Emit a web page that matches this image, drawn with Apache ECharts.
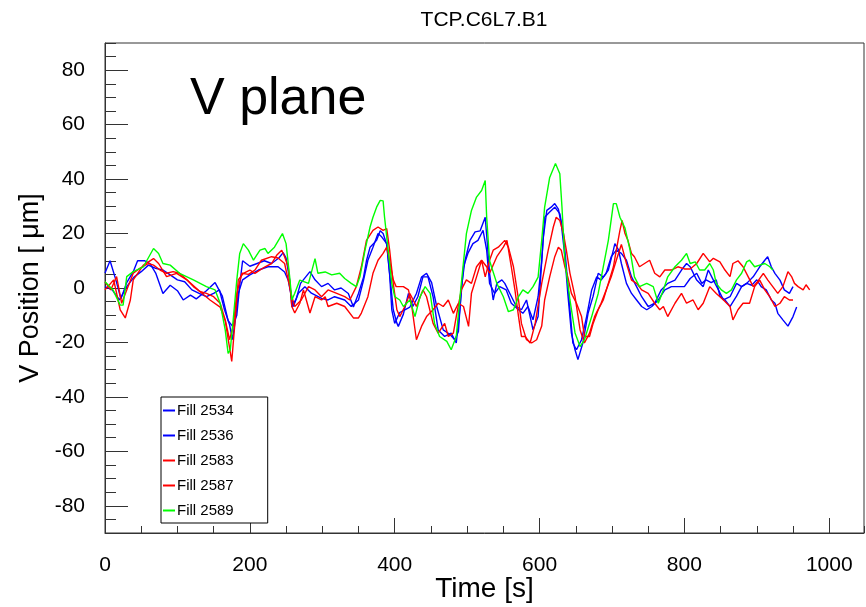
<!DOCTYPE html>
<html>
<head>
<meta charset="utf-8">
<script src="https://cdn.jsdelivr.net/npm/echarts@6/dist/echarts.min.js"></script>
<style>
html,body{margin:0;padding:0;background:#fff;}
#c{width:866px;height:607px;}
</style>
</head>
<body>
<div id="c"></div>
<script>
// ---- data (time [s], V position [um]) ----
const seriesNames = ['Fill 2534', 'Fill 2536', 'Fill 2583', 'Fill 2587', 'Fill 2589'];
const xTickLabels = [0, 200, 400, 600, 800, 1000];
const yTickLabels = [-80, -60, -40, -20, 0, 20, 40, 60, 80];

const tA = [0,7,15,22,30,39,45,55,62,70,80,90,100,108,118,126,140,152,162,170,176,182,186,190,200,210,220,230,240,246,250,255,258,264,270,283,290,299,308,317,326,336,343,350,357,361,366,375,380,384,389,393,396,400,407,414,421,430,437,444,451,458,467,476,483,488,492,497,504,511,518,525,528,531,536,541,548,552,559,568,575,582,591,598,605,610,616,621,626,630,635,639,644,649,653,660,667,674,681,688,695,702,704,709,713,720,727,734,741,748,755,764,773,782,791,800,808,817,824,830,837,844,849,856,863,872,879,886,893,900,906,913,920,925,929,936,943,950,955];
const vA = [5.5,10,3,-4,2,6,10,10,9,5.5,-2,1,-1,-4.4,-2.6,-4,-1,2,-3,-12,-14,-10,1,10,8,9,10,9,11,13,11,3,-7,-4,1.7,6,3,0.5,1.7,-0.7,0,-2,-7,-2,4,10,15,17.5,21,20,16,5,-8,-13,-9,-8,-7,-2,4,5.4,2,-6.8,-15.4,-17,-19,-16,0,10,17.5,20.6,21,26,16,5.4,-4.4,1.7,3,1.7,-2,-6.8,-8,-4.4,-15.4,-10.5,18,28.5,29.7,31,29,23.6,11.5,-2,-16.6,-22.7,-26.3,-20,-9.3,-3,5.4,4,6.6,14,16.3,14,9,1.7,-2,-4.4,-6.8,-8,-6.8,-4.4,-0.7,0.5,0.5,0.5,3.5,5.4,1.7,3,2,3,-3,-4.4,-6.8,-3,0.5,1.7,1,3,0.5,-0.7,-4.4,-5.6,-9.3,-11.7,-14,-10.5,-7];

const tB = [0,10,20,30,40,50,60,70,80,90,100,110,120,130,140,150,158,165,172,176,180,184,190,200,212,225,239,248,253,260,267,276,285,299,308,317,331,340,350,357,363,370,377,382,389,393,398,403,405,412,419,425,432,439,446,453,460,469,478,485,490,495,501,508,515,522,527,531,538,545,554,561,571,577,584,591,598,603,607,614,621,628,633,637,642,646,651,658,665,672,679,685,692,699,706,713,720,727,734,741,750,759,768,777,787,796,803,808,817,826,833,840,847,854,863,872,879,886,895,904,911,915,920,925,932,938,945,950];
const vB = [0.5,-0.7,-4.4,0.5,4,6,8.4,7.2,6.6,4.8,3,2.3,-0.7,-2,-3.2,-2,-0.7,-8,-13.5,-19,-11.7,-2,3,4.8,6.6,7.8,7.8,5.9,2.9,-6.8,-1.9,0.5,-1.9,-3.8,-4.4,-3.2,-4.4,-6.8,-4.4,2.9,10.2,15,20,18.8,16.3,5.4,-8,-12.9,-14.1,-9.6,-2,-6.8,-3.2,4.1,4.1,-3.2,-15.4,-17.8,-16.6,-20.2,-8,7.8,12.7,16.3,17.5,21.2,13.9,1.7,-2,0.5,-0.7,-5.6,-8,-9.3,-6.8,-11.7,-3.2,10,26,27.9,29.7,27.3,20,7.8,-8,-20.2,-22.7,-19,-10.5,-0.7,4.1,2.9,5.4,11.5,13.9,12.7,10.2,4.1,0.5,-3.2,-6.8,-5.6,-0.7,1.7,2.9,6.6,9,7.8,2.9,0.5,6.6,2.9,-0.7,-4.4,-3.2,1.7,0.5,1.7,4.1,7.8,10.2,11.5,7.8,5.4,2.9,-0.7,-2,0.5];

const tC = [0,12,21,28,35,39,53,67,74,85,99,113,131,145,159,166,175,179,184,191,200,207,221,230,237,244,248,253,258,262,269,274,278,283,290,299,304,308,320,331,343,350,354,363,370,377,384,389,393,398,402,412,419,423,430,437,444,453,460,467,474,481,488,495,502,506,513,520,525,531,536,543,552,557,564,571,575,582,589,596,603,607,614,621,626,630,635,639,644,651,658,662,669,674,681,688,695,702,706,711,714,718,722,727,731,738,745,752,759,766,773,782,791,800,808,817,826,835,840,849,856,863,867,874,881,888,895,900,909,915,922,929,936,943,948,952,957,964,968,973];
const vC = [-0.7,3,-8,-11,-4.4,3,8.4,10.8,9,4.2,5.4,3,-1.3,-4.4,-7,-12,-27,-14,3,5.4,6.6,5.4,7.8,9,12,13.9,11.5,7.8,-6.8,-9.2,-5.6,-0.7,-4.4,-9.2,-3.2,-4.4,-3.2,-6.8,-5.6,-6.8,-11,-11,-9.2,-3.2,5.4,10.2,12.7,15,10,3,0.5,0.5,-0.7,-5.6,-19,-14.1,-10.5,-8,-5.6,-6.8,-4.4,-9.3,-5.6,-6.8,-14.1,-1.9,4.1,10.2,4.1,10.2,13.9,15,17.5,15,7.8,-4.4,-13,-19,-20.2,-19,-14,-4.4,4.1,11.5,15,13.9,7.8,4.1,-2,-5.6,-10.5,-17.8,-17.8,-13,-8,-4.4,1.7,7.8,13.9,21.2,24.8,20,17.5,12.7,11.5,7.8,9,10.2,5.4,4.1,6.6,6.6,7.8,7,7,9,12.7,9.6,10.9,9.6,6.6,4.2,9,10,7.8,4.2,0.5,2,5.4,3,0.5,-2,0.5,6,4.2,1.7,0.5,-0.7,1.2,-0.7];

const tD = [0,8,16,23,30,39,48,60,67,76,85,94,103,113,122,131,140,150,159,166,172,177,182,189,198,207,216,230,239,248,253,258,262,271,281,290,299,308,320,331,338,347,354,361,370,377,384,389,393,398,403,407,414,421,430,439,444,453,460,469,474,481,485,492,499,506,513,520,527,531,541,550,555,561,566,571,575,580,587,594,603,612,619,623,628,633,637,642,649,656,662,669,676,685,692,699,706,713,720,727,734,741,750,759,766,771,777,787,796,803,812,819,826,835,844,854,863,867,874,881,890,897,904,911,918,925,932,938,945,950];
const vD = [2.3,-0.7,4.2,-5.6,-0.7,5.4,7.2,9,8.4,6.6,5.4,6,5.4,3,0.5,-1.3,-2,-3.2,-5.6,-11.7,-19,-14,-2,5.4,5,6.6,10.2,11.5,11,9,2.9,-3.2,-6.8,-4.4,0.5,-0.7,-3.2,-0.7,-2,-3.2,-4.4,0.5,7.8,17.5,21.2,22.4,21.2,21.8,14,1.7,-8,-10.5,-6.8,-2,-6.8,-0.7,-3.2,-13,-16.6,-13,-17.8,-16.6,-10.5,-0.7,3,1.7,7.8,10.2,7.8,5.4,11.5,15,17.5,7.8,-0.7,-10.5,-17.8,-17.8,-20.2,-13,1.7,13.9,22.4,26,24.8,20,13.9,5.4,-3.2,-15.4,-20.2,-16.6,-10.5,-5.6,-0.7,4.1,10.2,16,9,2.9,1.7,-0.7,-2,-5.6,-8,-6.8,-10.5,-5.6,-2,-5.6,-4.4,-8,-5.6,0.5,-2,-4.4,-6.8,-11.7,-8,-5.6,-5.6,0.5,2.9,-0.7,-3.2,-6.8,-5.6,-3.2,-4.4,-4.4];

const tE = [0,11,21,25,30,39,53,67,74,80,90,103,122,140,152,159,166,170,173,177,182,186,191,198,205,214,221,225,234,245,250,255,258,262,269,281,290,294,304,313,324,331,340,347,352,359,366,370,375,380,384,386,391,396,400,407,412,421,428,435,442,449,455,462,472,478,485,492,499,506,513,520,525,527,531,541,550,557,564,571,577,584,591,598,603,607,614,622,628,631,635,642,649,656,662,672,681,688,695,702,706,711,718,725,731,738,748,757,764,771,777,787,796,803,808,815,821,828,835,840,844,851,858,865,872,879,886,890,897,904,911,918,922];
const vE = [2.3,-0.7,-6.3,-6.3,4.2,6,7.8,14.5,12.7,9,8.4,5.4,3,0.5,-0.7,-5.6,-15.4,-24,-22.7,-11.7,3,12.7,16.3,13.9,10.2,13.9,14.5,12.7,15,20,16.3,4.1,-4.4,-1.9,2.9,1.7,10.8,5.4,5.9,4.8,5.4,3.5,1.7,0.5,4.1,13.9,22.4,26,29.7,32.2,32,26,13.9,1.7,-3.2,-4.4,-6.8,-4.4,-10.5,-3.2,0.5,-2,-13,-17.8,-19.6,-22.7,-17.8,1.7,20,28.5,33.4,35.8,39.5,26,10,1.7,-3.2,-8.7,-8,-3.2,-0.7,-2,0.5,4,17.5,29.6,40.6,45.7,42,29.6,10,-4.4,-16.5,-21.5,-19,-10.5,-2,7.8,17.5,31,31,26,22,13.9,4.1,0.5,1.7,0.5,-5.6,-0.7,4.1,7.8,10.2,12.7,9,9.6,6.6,6.6,9,6.6,1.7,-0.7,-2,-0.7,3,5.4,9.6,10.2,7.8,8.4,9,7.8,6.6];

const seriesColors = ['#0000ff', '#0000ff', '#ff0000', '#ff0000', '#00ff00'];
const times = [tA, tB, tC, tD, tE];
const values = [vA, vB, vC, vD, vE];

// ---- chart ----
const FONT = "'Liberation Sans', Arial, sans-serif";
const chart = echarts.init(document.getElementById('c'), null, {renderer: 'canvas'});
const zip = (t, v) => t.map((x, i) => [x, v[i]]);
const plain = v => String(v);

const option = {
  animation: false,
  backgroundColor: '#fff',
  title: {
    text: 'TCP.C6L7.B1',
    left: 479, top: 5,
    textAlign: 'center',
    textStyle: {fontFamily: FONT, fontSize: 21, fontWeight: 'normal', color: '#000'}
  },
  grid: {left: 105, right: 2, top: 43, bottom: 74, outerBoundsMode: 'none', containLabel: false,
         show: true, borderColor: '#333', borderWidth: 1, backgroundColor: 'transparent'},
  legend: {
    data: seriesNames,
    orient: 'vertical',
    left: 161, top: 397,
    icon: 'rect',
    itemWidth: 12, itemHeight: 2,
    itemGap: 10,
    padding: [6, 34, 5, 2],
    backgroundColor: '#fff',
    borderColor: '#000', borderWidth: 1,
    textStyle: {fontFamily: FONT, fontSize: 15, lineHeight: 15, color: '#000', padding: [0, 0, 0, -3]},
    selectedMode: false
  },
  xAxis: [
    {
      type: 'value', min: 0, max: 1048, position: 'bottom',
      name: 'Time [s]', nameLocation: 'middle', nameGap: 42, nameMoveOverlap: false,
      nameTextStyle: {fontFamily: FONT, fontSize: 28, color: '#000'},
      axisLine: {show: true, onZero: false, lineStyle: {color: '#333', width: 1}},
      axisTick: {show: true, inside: true, length: 15, customValues: xTickLabels, lineStyle: {color: '#333'}},
      axisLabel: {customValues: xTickLabels, formatter: plain, color: '#000', fontFamily: FONT, fontSize: 21, margin: 22},
      splitLine: {show: false}
    },
    {
      type: 'value', min: 0, max: 1048, interval: 50, position: 'bottom',
      axisLine: {show: false, onZero: false},
      axisTick: {show: true, inside: true, length: 7, lineStyle: {color: '#333'}},
      axisLabel: {show: false}, splitLine: {show: false}
    }
  ],
  yAxis: [
    {
      type: 'value', min: -90, max: 90, position: 'left',
      name: 'V Position [ \u03bcm]', nameLocation: 'middle', nameGap: 60, nameRotate: 90,
      nameTextStyle: {fontFamily: FONT, fontSize: 27, color: '#000'},
      axisLine: {show: true, onZero: false, lineStyle: {color: '#333', width: 1}},
      axisTick: {show: true, inside: true, length: 23, customValues: yTickLabels, lineStyle: {color: '#333'}},
      axisLabel: {customValues: yTickLabels, formatter: plain, color: '#000', fontFamily: FONT, fontSize: 21, margin: 20},
      splitLine: {show: false}
    },
    {
      type: 'value', min: -90, max: 90, interval: 5, position: 'left', offset: 0,
      axisLine: {show: false, onZero: false},
      axisTick: {show: true, inside: true, length: 11, lineStyle: {color: '#333'}},
      axisLabel: {show: false}, splitLine: {show: false}
    }
  ],
  graphic: [{
    type: 'text', left: 190, top: 74, z: 100,
    style: {text: 'V plane', fontFamily: FONT, fontSize: 52, fill: '#000'}
  }],
  series: seriesNames.map((name, i) => ({
    name, type: 'line', xAxisIndex: 0, yAxisIndex: 0,
    data: zip(times[i], values[i]),
    showSymbol: false, symbol: 'none',
    color: seriesColors[i],
    lineStyle: {width: 1.4, color: seriesColors[i]},
    z: 2 + i
  }))
};
chart.setOption(option);
</script>
</body>
</html>
